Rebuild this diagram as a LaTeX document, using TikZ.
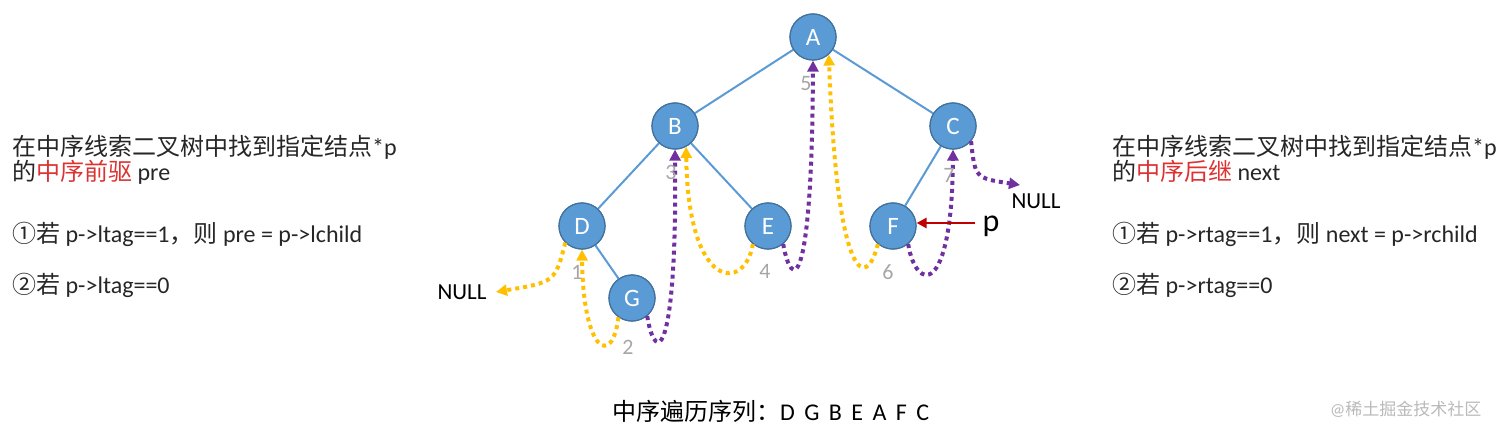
\documentclass[tikz,border=0pt]{standalone}
\usepackage{fontspec}
\setmainfont{Carlito}
\newfontfamily\cjk{Noto Sans CJK SC}
\usetikzlibrary{arrows.meta}
\definecolor{nodefill}{HTML}{5B9BD5}
\definecolor{nodeline}{HTML}{41719C}
\definecolor{ylw}{HTML}{FFC000}
\definecolor{prp}{HTML}{7030A0}
\definecolor{txt}{HTML}{262626}
\definecolor{hl}{HTML}{DC3232}
\definecolor{pred}{HTML}{C00000}
\definecolor{numgray}{HTML}{A6A6A6}
\tikzset{
  tnode/.style={circle, fill=nodefill, draw=nodeline, line width=1.2pt, minimum size=46pt, inner sep=0pt, text=white, font=\fontsize{25}{27}\selectfont},
  tedge/.style={draw=nodefill, line width=2pt},
  dotl/.style={line width=4pt, dash pattern=on 4pt off 4pt, -{Triangle[length=11pt,width=11pt]}},
  ya/.style={dotl, draw=ylw, color=ylw},
  pa/.style={dotl, draw=prp, color=prp},
  num/.style={text=numgray, font=\fontsize{22}{24}\selectfont, inner sep=0pt},
  body/.style={anchor=base west, inner sep=0pt, text=txt, font=\fontsize{24}{28}\selectfont},
  nulltxt/.style={inner sep=0pt, text=black, font=\fontsize{23}{25}\selectfont}
}
\begin{document}
\begin{tikzpicture}[x=1pt,y=-1pt]
\useasboundingbox (0,0) rectangle (1512,433);
% tree nodes (positions)
\node[tnode] (A) at (813,37) {A};
\node[tnode] (B) at (675,126) {B};
\node[tnode] (C) at (953,126) {C};
\node[tnode] (D) at (582,226) {D};
\node[tnode] (E) at (768,226) {E};
\node[tnode] (F) at (893,226) {F};
\node[tnode] (G) at (632,298) {G};
% edges
\draw[tedge] (A) -- (B);
\draw[tedge] (A) -- (C);
\draw[tedge] (B) -- (D);
\draw[tedge] (B) -- (E);
\draw[tedge] (C) -- (F);
\draw[tedge] (D) -- (G);
% nodes on top of edges
\node[tnode] at (A) {A};
\node[tnode] at (B) {B};
\node[tnode] at (C) {C};
\node[tnode] at (D) {D};
\node[tnode] at (E) {E};
\node[tnode] at (F) {F};
\node[tnode] at (G) {G};
% NULL labels
\node[nulltxt] (nullL) at (462,292) {NULL};
\node[nulltxt] (nullR) at (1036,201) {NULL};
\coordinate (nullLtip) at (496,292);
\coordinate (nullRtip) at (1020,185);
% threads
\draw[ya] (D.225) .. controls (555,282) .. (nullLtip);
\draw[ya] (G.235) .. controls (612,368) and (583,352) .. (D.south);
\draw[pa] (G.310) .. controls (656,368) and (677,355) .. (B.south);
\draw[ya] (E.230) .. controls (745,292) and (688,292) .. (B.-62);
\draw[pa] (E.310) .. controls (792,292) and (812,292) .. (A.south);
\draw[ya] (F.230) .. controls (866,292) and (837,282) .. (A.-48);
\draw[pa] (F.310) .. controls (916,292) and (952,298) .. (C.south);
\draw[pa] (C.-40) .. controls (975,178) .. (nullRtip);
% p pointer
\node[inner sep=0pt, text=black, font=\fontsize{32}{34}\selectfont] (p) at (991,226) {p};
\draw[pred, line width=2.5pt, -{Triangle[length=10pt,width=10pt]}] (p.west) ++(-7pt,3pt) coordinate (pstart) -- (F.east |- pstart);
% numbers
\node[num] (n1) at (577,272) {1};
\node[num] (n2) at (628,347) {2};
\node[num] (n3) at (671,172) {3};
\node[num] (n4) at (765,271) {4};
\node[num] (n5) at (806,84) {5};
\node[num] (n6) at (888,272) {6};
\node[num] (n7) at (949,175) {7};
% left text
\node[body] (l1) at (12,155) {{\cjk 在中序线索二叉树中找到指定结点}*p};
\node[body] (l2) at (12,180) {{\cjk 的}{\cjk\color{hl}中序前驱} pre};
\node[body] (l3) at (12,242) {{\cjk ①若} p->ltag==1{\cjk ，则} pre = p->lchild};
\node[body] (l4) at (12,293) {{\cjk ②若} p->ltag==0};
% right text
\node[body] (r1) at (1112,155) {{\cjk 在中序线索二叉树中找到指定结点}*p};
\node[body] (r2) at (1112,180) {{\cjk 的}{\cjk\color{hl}中序后继} next};
\node[body] (r3) at (1112,242) {{\cjk ①若} p->rtag==1{\cjk ，则} next = p->rchild};
\node[body] (r4) at (1112,293) {{\cjk ②若} p->rtag==0};
% bottom
\node[body, text=black, font=\fontsize{24}{28}\selectfont] (seq) at (612,420) {{\cjk 中序遍历序列：}D\, G\, B\, E\, A\, F\, C};
\node[anchor=base west, inner sep=0pt, text=gray!55, font=\fontsize{17}{20}\selectfont] (wm) at (1330,415) {@{\cjk 稀土掘金技术社区}};
\end{tikzpicture}
\end{document}
